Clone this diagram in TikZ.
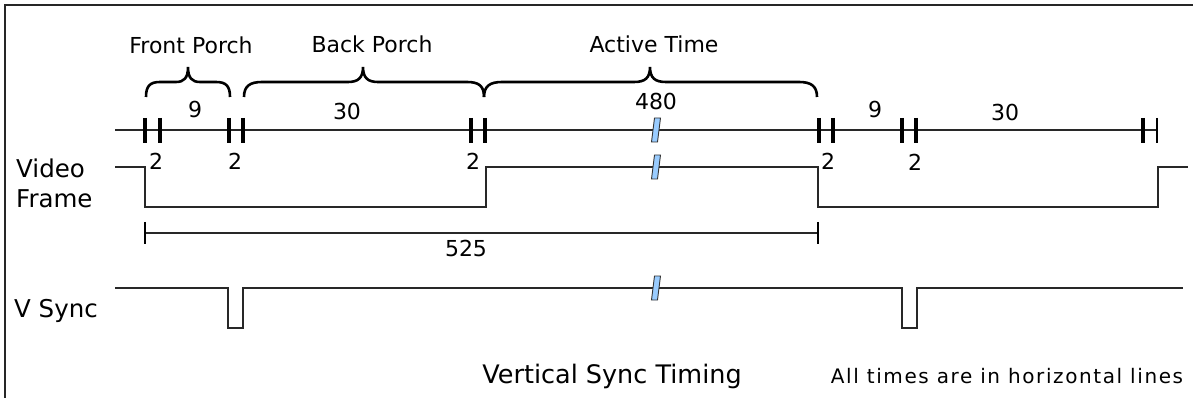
\documentclass[tikz,border=0pt]{standalone}
\usepackage{fontspec}
\setmainfont{DejaVu Sans}
\definecolor{slashblue}{RGB}{153,204,255}
\definecolor{wire}{RGB}{40,40,40}
\tikzset{
  lbl/.style={inner sep=0pt, anchor=base, font=\fontsize{22}{26}\selectfont},
  lblw/.style={lbl, anchor=base west, font=\fontsize{24.5}{28}\selectfont},
  wave/.style={draw=wire, line width=1.3pt},
  tickmark/.style={draw=black, line width=3.6pt},
  bracestyle/.style={draw=black, line width=2.6pt},
  slashmark/.pic={\draw[fill=slashblue, draw=black!80, line width=0.9pt] (-4.5,12) -- (1.5,12) -- (4.5,-12) -- (-1.5,-12) -- cycle;}
}
\begin{document}
\begin{tikzpicture}[x=1pt,y=-1pt]
\useasboundingbox (0,0) rectangle (1194,398);
% frame (top and left)
\draw[line width=1.6pt, black!85] (5,398) -- (5,5) -- (1193,5);

% top timeline
\draw[wave] (115,130) -- (1157,130);
\foreach \x in {145,160,229,243,471,485,819,833,902,916,1143}
  \draw[tickmark] (\x,118) -- (\x,143);
\draw[line width=1.8pt] (1157,118) -- (1157,143);
\pic at (656,130) {slashmark};

% braces
\draw[bracestyle] (146,97) .. controls (146,86) and (150,82) .. (160,82) -- (176,82)
  .. controls (184,82) and (188,78) .. (188,67) .. controls (188,78) and (192,82) .. (200,82)
  -- (216,82) .. controls (226,82) and (230,86) .. (230,97);
\draw[bracestyle] (244,97) .. controls (244,86) and (250,82) .. (262,82) -- (348,82)
  .. controls (358,82) and (363,78) .. (363,67) .. controls (363,78) and (368,82) .. (378,82)
  -- (467,82) .. controls (479,82) and (484,86) .. (484,97);
\draw[bracestyle] (484,97) .. controls (484,86) and (490,82) .. (502,82) -- (634,82)
  .. controls (645,82) and (650,78) .. (650,67) .. controls (650,78) and (655,82) .. (666,82)
  -- (799,82) .. controls (811,82) and (817,86) .. (817,97);

\node[lbl] (fp) at (191,54) {Front Porch};
\node[lbl] (bp) at (372,53) {Back Porch};
\node[lbl] (at) at (654,53) {Active Time};

\node[lbl] (n9a) at (195,118) {9};
\node[lbl] (n30a) at (347,120) {30};
\node[lbl] (n480) at (656,110) {480};
\node[lbl] (n9b) at (875,118) {9};
\node[lbl] (n30b) at (1005,121) {30};

\node[lbl] (t1) at (156,170) {2};
\node[lbl] (t2) at (235,170) {2};
\node[lbl] (t3) at (473,170) {2};
\node[lbl] (t4) at (828,170) {2};
\node[lbl] (t5) at (915,171) {2};

% video frame
\node[lblw] (vid) at (16,178) {Video};
\node[lblw] (frm) at (16,208) {Frame};
\draw[wave] (115,167) -- (145,167) -- (145,207) -- (486,207) -- (486,167) -- (818,167)
  -- (818,207) -- (1158,207) -- (1158,167) -- (1188,167);
\pic at (656,167) {slashmark};

% 525 span
\draw[wave] (145,233) -- (818,233);
\draw[line width=2pt] (145,222) -- (145,244);
\draw[line width=2pt] (818,222) -- (818,244);
\node[lbl] (n525) at (466,257) {525};

% V sync
\node[lblw] (vs) at (14,317) {V Sync};
\draw[wave] (115,288) -- (228,288) -- (228,328) -- (243,328) -- (243,288) -- (902,288)
  -- (902,328) -- (917,328) -- (917,288) -- (1183,288);
\pic at (656,288) {slashmark};

\node[lbl, font=\fontsize{25.5}{30}\selectfont] (title) at (612,383) {Vertical Sync Timing};
\node[lbl, font=\fontsize{20}{24}\selectfont\addfontfeatures{LetterSpace=8}] (note) at (1007,383) {All times are in horizontal lines};
\end{tikzpicture}
\end{document}
